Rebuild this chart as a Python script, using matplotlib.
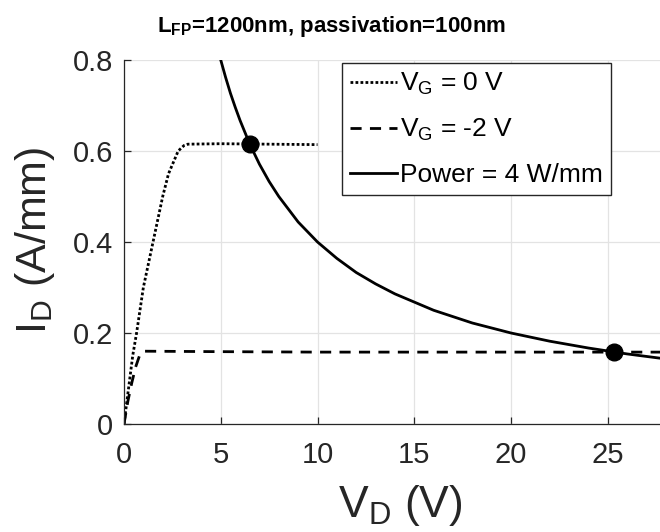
import matplotlib
matplotlib.use('Agg')
import matplotlib.pyplot as plt

# Font setup (Arial-like)
plt.rcParams['font.family'] = ['Liberation Sans', 'DejaVu Sans']
plt.rcParams['mathtext.fontset'] = 'custom'
plt.rcParams['mathtext.rm'] = 'Liberation Sans'
plt.rcParams['mathtext.it'] = 'Liberation Sans'
plt.rcParams['mathtext.bf'] = 'Liberation Sans:bold'

# Data
vd_vg0 = [0, 0.15, 0.3, 0.45, 0.65, 1.0, 1.5, 2.0, 2.3, 2.8, 3.1, 3.3, 5, 7.5, 10]
id_vg0 = [0, 0.05, 0.1, 0.15, 0.2, 0.3, 0.4, 0.5, 0.55, 0.6, 0.612, 0.615, 0.616, 0.615, 0.614]

vd_vgm2 = [0, 0.2, 0.4, 0.6, 0.8, 1.0, 5, 10, 15, 20, 25, 28]
id_vgm2 = [0, 0.05, 0.09, 0.125, 0.15, 0.16, 0.159, 0.158, 0.158, 0.158, 0.158, 0.158]

vd_pow = [5, 5.25, 5.5, 5.75, 6, 6.5, 7, 7.5, 8, 9, 10, 11, 12, 13, 14, 16, 18, 20, 22, 24, 26, 28]
id_pow = [0.8, 0.762, 0.727, 0.696, 0.667, 0.615, 0.571, 0.533, 0.5, 0.444, 0.4, 0.364, 0.333,
          0.308, 0.286, 0.25, 0.222, 0.2, 0.182, 0.167, 0.154, 0.143]

op_v = [6.5, 25.3]
op_i = [0.615, 0.158]

labels = [r'$\mathregular{V_G}$ = 0 V', r'$\mathregular{V_G}$ = -2 V', 'Power = 4 W/mm']
x_ticks = [0, 5, 10, 15, 20, 25]
y_ticks = [0, 0.2, 0.4, 0.6, 0.8]

fig = plt.figure(figsize=(6.6, 5.32), dpi=100)
ax = fig.add_axes([124 / 660, 1 - 424 / 532, (660 - 124) / 660, (424 - 60) / 532])

l1, = ax.plot(vd_vg0, id_vg0, color='black', lw=2, linestyle=(0, (1, 0.8)))
l2, = ax.plot(vd_vgm2, id_vgm2, color='black', lw=2, linestyle=(0, (4, 3)))
l3, = ax.plot(vd_pow, id_pow, color='black', lw=2)
ax.plot(op_v, op_i, 'o', color='black', markersize=12, zorder=5)

ax.set_xlim(0, 27.7)
ax.set_ylim(0, 0.8)
ax.set_xticks(x_ticks)
ax.set_yticks(y_ticks)
ax.set_yticklabels(['0', '0.2', '0.4', '0.6', '0.8'])

ax.grid(True, color='#e3e3e3', lw=0.9)
ax.set_axisbelow(True)
ax.spines['top'].set_visible(False)
ax.spines['right'].set_visible(False)
for s in ['left', 'bottom']:
    ax.spines[s].set_color('#262626')
    ax.spines[s].set_linewidth(0.9)
ax.tick_params(direction='in', length=5, width=0.9, colors='#262626',
               labelsize=21, labelcolor='#262626')
ax.tick_params(axis='x', pad=12)
ax.tick_params(axis='y', pad=8)

# Legend
leg = fig.legend([l1, l2, l3], labels, loc='upper left',
                 bbox_to_anchor=(342 / 660, 1 - 63 / 532),
                 bbox_transform=fig.transFigure, borderaxespad=0,
                 fontsize=19, frameon=True, fancybox=False, framealpha=1,
                 edgecolor='#262626', handlelength=1.8, handletextpad=0.1,
                 labelspacing=0.75, borderpad=0.3)
leg.get_frame().set_linewidth(1.0)

# Title and axis labels
fig.text(0.503, 1 - 32 / 532, r'$\mathbf{L_{FP}}$=1200nm, passivation=100nm',
         ha='center', va='baseline', fontsize=16, fontweight='bold')
fig.text(0.606, 1 - 517 / 532, r'$\mathregular{V_D}$ (V)', ha='center', va='baseline',
         fontsize=32, color='#262626')
fig.text(0.053, 1 - 240 / 532, r'$\mathregular{I_D}$ (A/mm)', ha='center', va='center',
         rotation=90, fontsize=31, color='#262626')

fig.savefig('out.png', dpi=100)
